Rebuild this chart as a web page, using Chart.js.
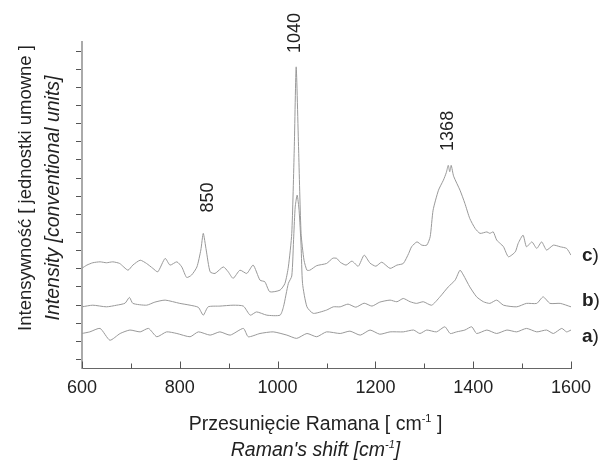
<!DOCTYPE html>
<html>
<head>
<meta charset="utf-8">
<script src="https://cdn.jsdelivr.net/npm/chart.js@4.4.1/dist/chart.umd.min.js"></script>
<style>
  html, body { margin: 0; padding: 0; background: #fff; }
</style>
</head>
<body>
<canvas id="raman-chart" width="606" height="463"></canvas>
<script>
// spectrum c) - top trace
const shiftC = [600, 610, 622, 637, 650, 663, 677, 694, 704, 719, 732, 745, 755, 770, 780, 794, 804, 814, 824, 835,
  843, 848, 854, 862, 872, 889, 899, 909, 923, 937, 950, 964, 974, 984, 1005, 1015, 1022, 1029, 1034, 1038,
  1043, 1048, 1054, 1060, 1066, 1080, 1100, 1113, 1121, 1128, 1140, 1152, 1165, 1177, 1189, 1201, 1213, 1230, 1244, 1257,
  1268, 1274, 1285, 1295, 1305, 1312, 1318, 1329, 1339, 1345, 1349, 1352, 1355, 1360, 1373, 1383, 1393, 1404, 1414, 1428,
  1434, 1441, 1448, 1455, 1462, 1472, 1486, 1492, 1502, 1509, 1520, 1530, 1540, 1550, 1564, 1578, 1591, 1600];
const intensityC = [5.03, 5.20, 5.33, 5.38, 5.33, 5.38, 5.29, 4.92, 5.20, 5.47, 5.29, 5.02, 4.83, 5.57, 5.20, 5.38, 5.10, 4.52, 4.65, 5.10,
  6.03, 6.95, 6.03, 4.83, 4.74, 5.10, 4.83, 4.47, 4.92, 4.74, 5.20, 4.37, 4.28, 3.73, 3.82, 4.19, 5.10, 6.95, 11.54, 16.13,
  11.54, 6.95, 5.47, 4.92, 4.92, 5.17, 5.29, 5.58, 5.57, 5.36, 5.20, 5.42, 5.14, 5.75, 5.31, 5.14, 5.36, 5.02, 5.20, 5.29,
  5.84, 6.21, 6.48, 6.30, 6.30, 6.76, 8.23, 9.33, 9.88, 10.30, 10.70, 10.35, 10.70, 10.10, 9.33, 8.60, 7.77, 7.22, 6.95, 7.03,
  6.95, 7.03, 6.58, 6.40, 6.21, 5.66, 5.93, 6.40, 6.85, 6.21, 6.48, 6.12, 6.48, 6.03, 6.30, 6.21, 6.12, 5.75];

// spectrum b) - middle trace
const shiftB = [600, 622, 650, 671, 688, 697, 704, 732, 749, 770, 800, 821, 838, 848, 858, 882, 909, 930, 944, 957,
  978, 1005, 1012, 1022, 1029, 1033, 1036, 1040, 1044, 1048, 1051, 1060, 1073, 1100, 1114, 1128, 1144, 1160, 1177, 1193,
  1209, 1230, 1244, 1257, 1271, 1284, 1298, 1315, 1332, 1349, 1363, 1373, 1380, 1393, 1407, 1421, 1434, 1448, 1462, 1489,
  1509, 1530, 1543, 1557, 1578, 1600];
const intensityB = [2.90, 2.99, 2.90, 2.99, 3.10, 3.42, 3.09, 2.99, 3.16, 3.27, 3.09, 2.99, 2.87, 2.44, 2.90, 2.94, 2.99, 2.94, 2.44, 2.62,
  2.44, 2.44, 2.90, 4.19, 4.60, 6.80, 8.40, 9.06, 8.20, 6.30, 4.19, 2.90, 2.54, 2.72, 2.90, 2.90, 3.05, 2.88, 3.10, 2.94,
  3.16, 3.27, 3.18, 3.36, 3.18, 3.09, 3.18, 2.99, 3.45, 4.00, 4.37, 4.92, 4.65, 4.00, 3.45, 3.18, 3.09, 3.27, 2.99, 2.90,
  3.09, 3.09, 3.45, 3.09, 3.09, 2.90];

// spectrum a) - bottom trace
const shiftA = [600, 616, 637, 657, 678, 698, 719, 736, 753, 773, 794, 821, 838, 862, 882, 903, 930, 940, 964, 991,
  1019, 1039, 1060, 1080, 1100, 1128, 1148, 1169, 1189, 1209, 1230, 1257, 1278, 1291, 1305, 1325, 1342, 1353, 1366, 1383,
  1397, 1407, 1428, 1448, 1469, 1489, 1509, 1530, 1550, 1564, 1581, 1591, 1600];
const intensityA = [1.43, 1.52, 1.71, 1.06, 1.43, 1.62, 1.52, 1.71, 1.25, 1.52, 1.43, 1.25, 1.52, 1.34, 1.52, 1.34, 1.71, 1.25, 1.43, 1.52,
  1.34, 1.16, 1.43, 1.25, 1.52, 1.43, 1.56, 1.34, 1.62, 1.39, 1.52, 1.52, 1.62, 1.43, 1.62, 1.52, 1.80, 1.43, 1.52, 1.62,
  1.80, 1.43, 1.62, 1.43, 1.62, 1.52, 1.71, 1.52, 1.62, 1.43, 1.71, 1.52, 1.62];

// tick marks on the (unlabelled) intensity axis
const yTickValues = [0, 1, 2, 3, 4, 5, 6, 7, 8, 9, 10, 11, 12, 13, 14, 15, 16, 17];

// peak labels and where they sit (data units)
const peakLabels = ['850', '1040', '1368'];
const peakLabelShift = [858, 1036, 1349];
const peakLabelLevel = [8.93, 18.0, 12.6];

// trace names at the right end
const traceNames = ['c', 'b', 'a'];
const traceNameLevel = [5.74, 3.23, 1.26];

const lineColor = '#999';
const textColor = '#222';
const fontFamily = "'Liberation Sans', Arial, sans-serif";

function toPoints(xs, ys) {
    return xs.map((x, i) => ({ x: x, y: ys[i] }));
}

function drawParts(ctx, parts, cx, baseline) {
    let w = 0;
    parts.forEach(p => { ctx.font = p[1]; w += ctx.measureText(p[0]).width; });
    let x = cx - w / 2;
    ctx.textAlign = 'left';
    ctx.textBaseline = 'alphabetic';
    parts.forEach(p => {
        ctx.font = p[1];
        ctx.fillText(p[0], x, baseline + p[2]);
        x += ctx.measureText(p[0]).width;
    });
}

// inward x ticks, axis titles, peak labels and trace names
const annotate = {
    id: 'annotate',
    afterDraw(chart) {
        const ctx = chart.ctx;
        const xs = chart.scales.x;
        const ys = chart.scales.y;
        const area = chart.chartArea;
        ctx.save();

        ctx.strokeStyle = '#555';
        ctx.lineWidth = 1;
        xs.ticks.forEach(t => {
            const px = Math.round(xs.getPixelForValue(t.value)) + 0.5;
            const len = t.value % 200 === 0 ? 7 : 5;
            ctx.beginPath();
            ctx.moveTo(px, area.bottom);
            ctx.lineTo(px, area.bottom - len);
            ctx.stroke();
        });

        ctx.fillStyle = textColor;

        // x axis title, two lines
        const cx = (area.left + area.right) / 2 - 11;
        drawParts(ctx, [
            ['Przesunięcie Ramana [ cm', '19.5px ' + fontFamily, 0],
            ['-1', '11px ' + fontFamily, -8],
            [' ]', '19.5px ' + fontFamily, 0]
        ], cx, 430);
        drawParts(ctx, [
            ["Raman's shift [cm", 'italic 19.5px ' + fontFamily, 0],
            ['-1', 'italic 11px ' + fontFamily, -8],
            [']', 'italic 19.5px ' + fontFamily, 0]
        ], cx, 456);

        // y axis title, two lines
        ctx.save();
        ctx.translate(31, 188);
        ctx.rotate(-Math.PI / 2);
        ctx.font = '18.5px ' + fontFamily;
        ctx.textAlign = 'center';
        ctx.textBaseline = 'alphabetic';
        ctx.fillText('Intensywność [ jednostki umowne ]', 0, 0);
        ctx.restore();

        ctx.save();
        ctx.translate(59, 198);
        ctx.rotate(-Math.PI / 2);
        ctx.font = 'italic 19.5px ' + fontFamily;
        ctx.textAlign = 'center';
        ctx.textBaseline = 'alphabetic';
        ctx.fillText('Intensity [conventional units]', 0, 0);
        ctx.restore();

        // peak labels
        peakLabels.forEach((txt, i) => {
            ctx.save();
            ctx.translate(xs.getPixelForValue(peakLabelShift[i]), ys.getPixelForValue(peakLabelLevel[i]));
            ctx.rotate(-Math.PI / 2);
            ctx.font = '18px ' + fontFamily;
            ctx.textAlign = 'center';
            ctx.textBaseline = 'middle';
            ctx.fillText(txt, 0, 0);
            ctx.restore();
        });

        // trace names
        traceNames.forEach((name, i) => {
            const py = ys.getPixelForValue(traceNameLevel[i]);
            ctx.textAlign = 'left';
            ctx.textBaseline = 'middle';
            ctx.font = 'bold 19px ' + fontFamily;
            ctx.fillText(name, area.right + 11, py);
            const w = ctx.measureText(name).width;
            ctx.font = '19px ' + fontFamily;
            ctx.fillText(')', area.right + 11 + w, py);
        });

        ctx.restore();
    }
};

const ctx = document.getElementById('raman-chart').getContext('2d');

const traceStyle = {
    borderColor: lineColor,
    borderWidth: 1,
    pointRadius: 0,
    tension: 0.2,
    fill: false
};

window.myChart = new Chart(ctx, {
    type: 'line',
    data: {
        datasets: [
            Object.assign({ label: 'c)', data: toPoints(shiftC, intensityC) }, traceStyle),
            Object.assign({ label: 'b)', data: toPoints(shiftB, intensityB) }, traceStyle),
            Object.assign({ label: 'a)', data: toPoints(shiftA, intensityA) }, traceStyle)
        ]
    },
    options: {
        responsive: false,
        animation: false,
        layout: { padding: { top: 42, right: 35, left: 0, bottom: 0 } },
        plugins: {
            legend: { display: false },
            tooltip: { enabled: false }
        },
        scales: {
            x: {
                type: 'linear',
                min: 600,
                max: 1600,
                ticks: {
                    stepSize: 100,
                    autoSkip: false,
                    maxRotation: 0,
                    padding: 9,
                    color: textColor,
                    font: { family: fontFamily, size: 18 },
                    callback: v => (v % 200 === 0 ? String(v) : '')
                },
                grid: { display: false, drawTicks: false },
                border: { display: true, color: '#666', width: 1 },
                afterFit: s => { s.height = 463 - 368.5; }
            },
            y: {
                min: -0.5,
                max: 17.5,
                afterBuildTicks: s => { s.ticks = yTickValues.map(v => ({ value: v })); },
                ticks: { display: false },
                grid: { drawOnChartArea: false, drawTicks: true, tickLength: 6, color: '#555' },
                border: { display: true, color: '#aaa', width: 2 },
                afterFit: s => { s.width = 82; }
            }
        }
    },
    plugins: [annotate]
});
</script>
</body>
</html>
